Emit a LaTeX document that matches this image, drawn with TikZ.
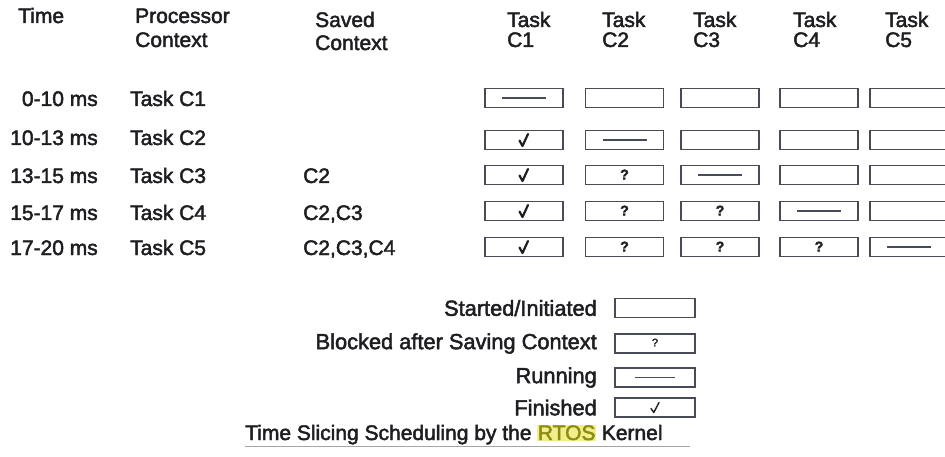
\documentclass[tikz,border=0pt]{standalone}
\usepackage{fontspec}
\setmainfont{Liberation Sans}[FakeBold=2.2]
\definecolor{ink}{HTML}{1E1E22}
\definecolor{frame}{HTML}{474B58}
\definecolor{hilite}{HTML}{F2EE8A}
\definecolor{rtostext}{HTML}{8C8C10}

\tikzset{
  lbl/.style={font=\fontsize{21}{20}\selectfont, text=ink, inner sep=0pt},
  keylbl/.style={lbl, font=\fontsize{21.8}{20}\selectfont},
  taskbox/.style={draw=frame, line width=1.4pt, minimum width=78pt,
                  minimum height=19pt, inner sep=0pt},
  keybox/.style={taskbox, minimum width=80pt},
  runmark/.style={draw=frame, line width=1.6pt},
  qmark/.style={font=\fontsize{14}{14}\selectfont\bfseries, text=ink, inner sep=0pt},
  checkmark/.pic={\draw[ink, line width=2.2pt, line cap=round, line join=round]
                  (-4.5,0.5) -- (-1.5,6) -- (4,-6);},
  thincheck/.pic={\draw[ink, line width=1.4pt, line cap=round, line join=round]
                  (-4,1) -- (-1.2,5) -- (4,-5);}
}

\begin{document}
\begin{tikzpicture}[x=1pt, y=-1pt]
  \useasboundingbox (0,0) rectangle (945,457);
  \clip (0,0) rectangle (945,457);

  % column headings
  \node[lbl, anchor=base west] (hTime)  at (18,23)  {Time};
  \node[lbl, anchor=base west] (hProcA) at (135,23) {Processor};
  \node[lbl, anchor=base west] (hProcB) at (135,47) {Context};
  \node[lbl, anchor=base west] (hSavA)  at (315,27) {Saved};
  \node[lbl, anchor=base west] (hSavB)  at (315,50) {Context};
  \foreach \c/\x in {1/507, 2/602, 3/693, 4/793, 5/885} {
    \node[lbl, anchor=base west] (hT\c) at (\x,27) {Task};
    \node[lbl, anchor=base west] (hC\c) at (\x,47) {C\c};
  }

  % time slots, running task and saved contexts
  \foreach \r/\y/\t/\s in {1/106/0-10/, 2/145/10-13/, 3/183/13-15/C2,
                           4/220/15-17/{C2,C3}, 5/255/17-20/{C2,C3,C4}} {
    \node[lbl, anchor=base east] (time\r) at (98,\y)  {\t\ ms};
    \node[lbl, anchor=base west] (proc\r) at (130,\y) {Task C\r};
    \node[lbl, anchor=base west] (sav\r)  at (303,\y) {\s};
  }

  % task state boxes
  \foreach \c/\x in {1/524, 2/624.5, 3/720, 4/819, 5/909}
    \foreach \r/\y in {1/98, 2/140, 3/175, 4/211, 5/247}
      \node[taskbox] (b\r\c) at (\x,\y) {};

  % running task in each slot
  \foreach \r in {1,...,5}
    \draw[runmark] ([xshift=-22pt]b\r\r.center) -- ([xshift=22pt]b\r\r.center);

  % finished task C1
  \foreach \r in {2,...,5}
    \pic at (b\r1.center) {checkmark};

  % blocked tasks with saved context
  \foreach \r/\c in {3/2, 4/2, 4/3, 5/2, 5/3, 5/4}
    \node[qmark] (q\r\c) at ([yshift=0.5pt]b\r\c.center) {?};

  % legend
  \node[keylbl, anchor=east] (kStart) at (597,308)   {Started/Initiated};
  \node[keylbl, anchor=east] (kBlock) at (597,343.5) {Blocked after Saving Context};
  \node[keylbl, anchor=east] (kRun)   at (597,377.5) {Running};
  \node[keylbl, anchor=east] (kFin)   at (597,407.5) {Finished};
  \node[keybox] (lg1) at (655,308)   {};
  \node[keybox] (lg2) at (655,343.5) {};
  \node[keybox] (lg3) at (655,377.5) {};
  \node[keybox] (lg4) at (655,407.5) {};
  \node[qmark, font=\fontsize{11}{11}\selectfont] (lgq) at ([yshift=1pt]lg2.center) {?};
  \draw[runmark, line width=1.2pt] ([xshift=-20pt]lg3.center) -- ([xshift=20pt]lg3.center);
  \pic at (lg4.center) {thincheck};

  % caption
  \node[lbl, anchor=base west] (title) at (245,440)
    {Time Slicing Scheduling by the {\setlength{\fboxsep}{0.5pt}\colorbox{hilite}{\color{rtostext}RTOS}} Kernel};
  \coordinate (ulA) at (245,446);
  \coordinate (ulB) at (690,446);
  \draw[gray!70, line width=0.9pt] (ulA) -- (ulB);
\end{tikzpicture}
\end{document}
